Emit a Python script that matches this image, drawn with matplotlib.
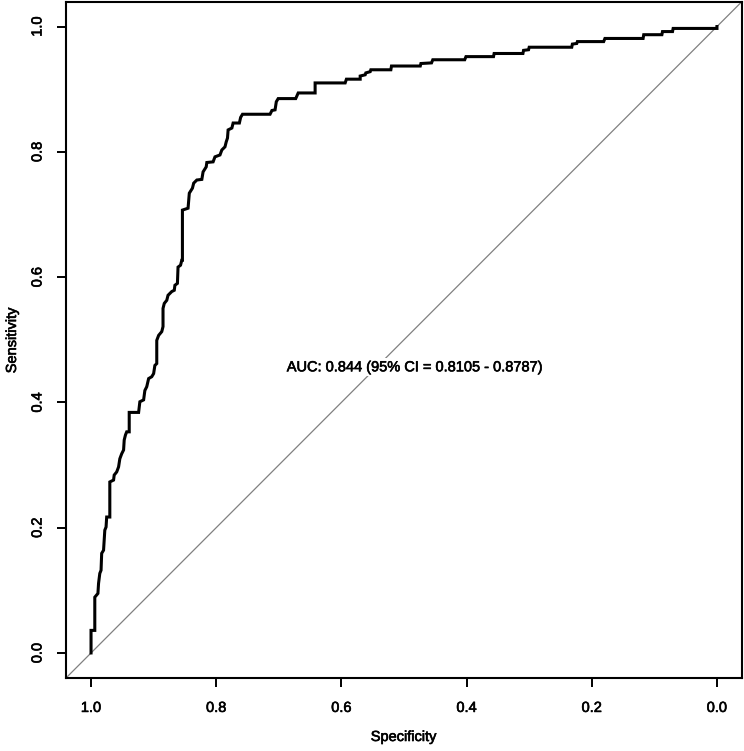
import numpy as np
import matplotlib
matplotlib.use("Agg")
import matplotlib.pyplot as plt
import matplotlib.patheffects as pe

plt.rcParams['font.family'] = ['Liberation Sans', 'DejaVu Sans']

# ROC curve vertices (specificity, sensitivity)
spec = [1.000, 1.000, 0.994, 0.994, 0.989, 0.988, 0.986, 0.984, 0.983, 0.980,
        0.978, 0.976, 0.975, 0.970, 0.970, 0.964, 0.963, 0.959, 0.956, 0.954,
        0.951, 0.948, 0.947, 0.945, 0.943, 0.939, 0.939, 0.924, 0.922, 0.916,
        0.914, 0.911, 0.908, 0.903, 0.900, 0.898, 0.895, 0.895, 0.892, 0.887,
        0.885, 0.885, 0.883, 0.879, 0.877, 0.871, 0.867, 0.866, 0.862, 0.861,
        0.857, 0.855, 0.854, 0.854, 0.845, 0.843, 0.838, 0.836, 0.831, 0.823,
        0.821, 0.816, 0.815, 0.805, 0.802, 0.794, 0.791, 0.786, 0.784, 0.782,
        0.781, 0.775, 0.773, 0.763, 0.761, 0.758, 0.714, 0.711, 0.706, 0.704,
        0.701, 0.673, 0.669, 0.642, 0.642, 0.594, 0.592, 0.570, 0.570, 0.562,
        0.561, 0.554, 0.553, 0.521, 0.520, 0.474, 0.473, 0.456, 0.454, 0.403,
        0.401, 0.357, 0.356, 0.310, 0.309, 0.301, 0.300, 0.232, 0.231, 0.224,
        0.223, 0.181, 0.179, 0.118, 0.117, 0.088, 0.087, 0.071, 0.070, 0.000,
        0.000]
sens = [0.000, 0.036, 0.036, 0.089, 0.095, 0.111, 0.127, 0.132, 0.159, 0.164,
        0.196, 0.201, 0.217, 0.217, 0.273, 0.276, 0.284, 0.289, 0.297, 0.310,
        0.318, 0.324, 0.340, 0.348, 0.353, 0.353, 0.384, 0.384, 0.401, 0.404,
        0.419, 0.425, 0.438, 0.441, 0.446, 0.459, 0.462, 0.499, 0.507, 0.513,
        0.521, 0.550, 0.558, 0.563, 0.571, 0.577, 0.579, 0.587, 0.590, 0.616,
        0.619, 0.627, 0.627, 0.707, 0.710, 0.734, 0.742, 0.750, 0.755, 0.756,
        0.768, 0.776, 0.783, 0.784, 0.792, 0.795, 0.803, 0.808, 0.816, 0.822,
        0.835, 0.838, 0.846, 0.846, 0.855, 0.860, 0.860, 0.866, 0.867, 0.880,
        0.885, 0.885, 0.894, 0.894, 0.910, 0.910, 0.916, 0.916, 0.921, 0.923,
        0.926, 0.928, 0.931, 0.931, 0.937, 0.937, 0.941, 0.942, 0.947, 0.947,
        0.952, 0.952, 0.957, 0.957, 0.962, 0.963, 0.967, 0.967, 0.972, 0.973,
        0.976, 0.976, 0.981, 0.981, 0.987, 0.987, 0.992, 0.992, 0.997, 0.997,
        1.000]

ticks = [0.0, 0.2, 0.4, 0.6, 0.8, 1.0]
tick_labels = ["0.0", "0.2", "0.4", "0.6", "0.8", "1.0"]
auc_text = "AUC: 0.844 (95% CI = 0.8105 - 0.8787)"

# the reference text is a touch heavier than plain Liberation Sans
heavy = [pe.withStroke(linewidth=0.45, foreground="black")]

fig = plt.figure(figsize=(7.44, 7.51), dpi=100)
ax = fig.add_axes([66 / 744, 73 / 751, 676 / 744, 676.5 / 751])

ax.set_xlim(1.04, -0.04)
ax.set_ylim(-0.04, 1.04)

# chance line across the whole box
ax.plot([1.04, -0.04], [-0.04, 1.04], color="#808080", lw=0.9, zorder=1)
ax.plot(spec, sens, color="black", lw=2.2, solid_joinstyle="miter", zorder=3)

ax.text(0.482, 0.456, auc_text, ha="center", va="center", fontsize=10.5,
        zorder=4, path_effects=heavy,
        bbox=dict(facecolor="white", edgecolor="none", pad=1.5))

ax.set_xticks(ticks)
ax.set_xticklabels(tick_labels)
ax.set_yticks(ticks)
ax.set_yticklabels(tick_labels, rotation=90, va="center")
ax.tick_params(axis="both", length=6.5, width=1.4, labelsize=10.5)
ax.tick_params(axis="x", pad=10)
ax.tick_params(axis="y", pad=9)
for lab in ax.get_xticklabels() + ax.get_yticklabels():
    lab.set_path_effects(heavy)
for sp in ax.spines.values():
    sp.set_linewidth(1.5)

fig.text(404 / 744, 1 - 737 / 751, "Specificity", ha="center", va="center",
         fontsize=10.5, path_effects=heavy)
fig.text(12 / 744, 1 - 340 / 751, "Sensitivity", ha="center", va="center",
         rotation=90, fontsize=10.5, path_effects=heavy)

fig.savefig("out.png", dpi=100)
